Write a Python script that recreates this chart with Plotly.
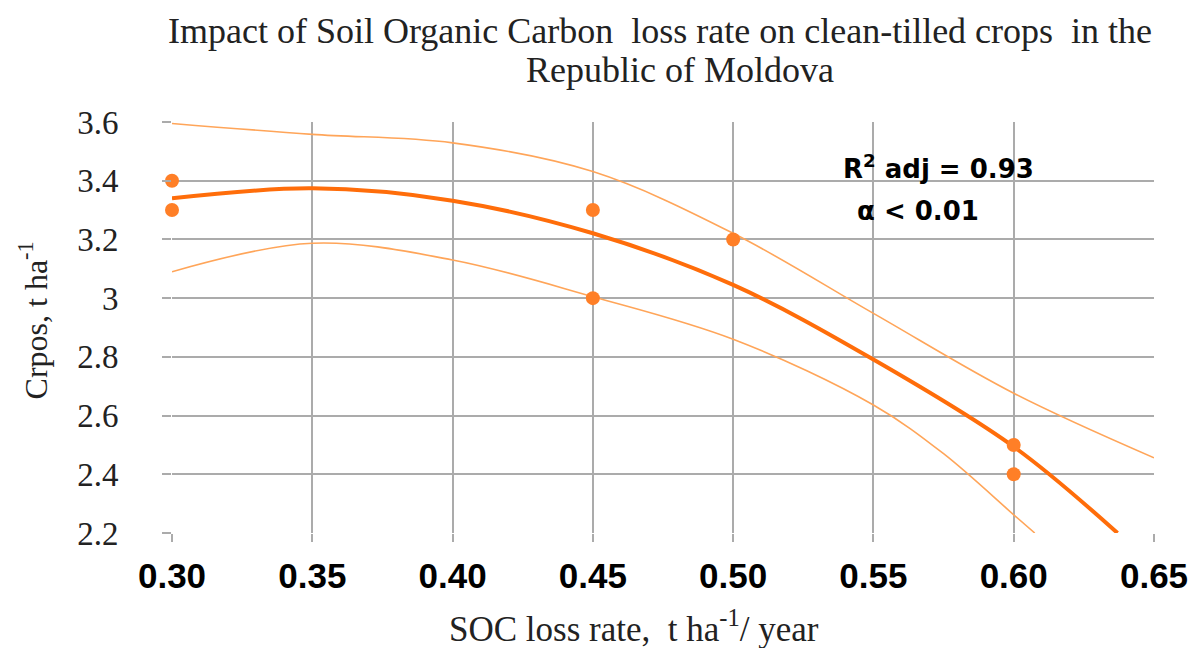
import plotly.graph_objects as go

# Observed data points
obs_x = [0.30, 0.30, 0.45, 0.45, 0.50, 0.60, 0.60]
obs_y = [3.40, 3.30, 3.30, 3.00, 3.20, 2.50, 2.40]

# Fitted curve
fit_x = [0.30, 0.35, 0.40, 0.45, 0.50, 0.55, 0.60, 0.637]
fit_y = [3.340, 3.374, 3.332, 3.221, 3.045, 2.791, 2.494, 2.20]

# Upper confidence band
up_x = [0.30, 0.35, 0.40, 0.45, 0.50, 0.55, 0.60, 0.65]
up_y = [3.595, 3.558, 3.529, 3.431, 3.221, 2.948, 2.676, 2.456]

# Lower confidence band
lo_x = [0.30, 0.35, 0.40, 0.45, 0.50, 0.55, 0.575, 0.60, 0.6075]
lo_y = [3.090, 3.187, 3.130, 3.005, 2.860, 2.636, 2.470, 2.262, 2.20]

x_ticks = [0.30, 0.35, 0.40, 0.45, 0.50, 0.55, 0.60, 0.65]
x_tick_text = ["0.30", "0.35", "0.40", "0.45", "0.50", "0.55", "0.60", "0.65"]
y_ticks = [2.2, 2.4, 2.6, 2.8, 3.0, 3.2, 3.4, 3.6]
y_tick_text = ["2.2", "2.4", "2.6", "2.8", "3", "3.2", "3.4", "3.6"]

serif = "Liberation Serif, Times New Roman, serif"
sans = "Liberation Sans, Arial, sans-serif"
wide_sans = "DejaVu Sans, Verdana, sans-serif"

fig = go.Figure()
fig.add_trace(go.Scatter(x=up_x, y=up_y, mode="lines",
                         line=dict(color="#FFA559", width=1.6, shape="spline", smoothing=1),
                         showlegend=False, hoverinfo="skip"))
fig.add_trace(go.Scatter(x=lo_x, y=lo_y, mode="lines",
                         line=dict(color="#FFA559", width=1.6, shape="spline", smoothing=1),
                         showlegend=False, hoverinfo="skip"))
fig.add_trace(go.Scatter(x=fit_x, y=fit_y, mode="lines",
                         line=dict(color="#FF6D0A", width=4, shape="spline", smoothing=1),
                         showlegend=False))
fig.add_trace(go.Scatter(x=obs_x, y=obs_y, mode="markers",
                         marker=dict(color="#FF7F27", size=14),
                         cliponaxis=False, showlegend=False))

W, H = 1200, 648
ml, mr, mt, mb = 172, 43, 122, 115
pw, ph = W - ml - mr, H - mt - mb

def px(xp):
    return (xp - ml) / pw

def py(yp):
    return 1 - (yp - mt) / ph

fig.add_shape(type="rect", xref="paper", yref="paper",
              x0=px(823), x1=px(1045), y0=py(237), y1=py(139),
              fillcolor="white", line=dict(width=0), layer="between")

fig.update_layout(
    width=W, height=H,
    margin=dict(l=ml, r=mr, t=mt, b=mb),
    paper_bgcolor="white", plot_bgcolor="white",
    showlegend=False,
    xaxis=dict(range=[0.30, 0.65], tickvals=x_ticks, ticktext=x_tick_text,
               showgrid=True, gridcolor="#ABABAB", gridwidth=1.5,
               zeroline=False, showline=False,
               ticks="outside", ticklen=8, tickcolor="#ABABAB", tickwidth=1.5,
               ticklabelstandoff=4,
               tickfont=dict(family=sans, size=35, color="black", weight="bold")),
    yaxis=dict(range=[2.2, 3.6], tickvals=y_ticks, ticktext=y_tick_text,
               showgrid=True, gridcolor="#ABABAB", gridwidth=1.5,
               zeroline=False, showline=False,
               ticks="outside", ticklen=9, tickcolor="#ABABAB", tickwidth=1.5,
               ticklabelstandoff=37,
               tickfont=dict(family=serif, size=33, color="#222222")),
)

annotations = [
    dict(text="Impact of Soil Organic Carbon\u00a0 loss rate on clean-tilled crops\u00a0 in the",
         x=px(661), y=py(31), xref="paper", yref="paper", showarrow=False,
         xanchor="center", yanchor="middle",
         font=dict(family=serif, size=36, color="#222222")),
    dict(text="Republic of Moldova",
         x=px(682), y=py(70), xref="paper", yref="paper", showarrow=False,
         xanchor="center", yanchor="middle",
         font=dict(family=serif, size=36, color="#222222")),
    dict(text="SOC loss rate,\u00a0 t ha<sup>-1</sup>/ year",
         x=px(635), y=py(626), xref="paper", yref="paper", showarrow=False,
         xanchor="center", yanchor="middle",
         font=dict(family=serif, size=35, color="#222222")),
    dict(text="Crpos, t ha<sup>-1</sup>",
         x=px(33), y=py(320), xref="paper", yref="paper", showarrow=False,
         xanchor="center", yanchor="middle", textangle=-90,
         font=dict(family=serif, size=32, color="#222222")),
    dict(text="R<sup>2</sup> adj = 0.93",
         x=px(843), y=py(167), xref="paper", yref="paper", showarrow=False,
         xanchor="left", yanchor="middle",
         font=dict(family=wide_sans, size=26, color="black", weight="bold")),
    dict(text="\u03b1 < 0.01",
         x=px(857), y=py(211), xref="paper", yref="paper", showarrow=False,
         xanchor="left", yanchor="middle",
         font=dict(family=wide_sans, size=26, color="black", weight="bold")),
]
fig.update_layout(annotations=annotations)

fig.write_html("out.html", config={"displayModeBar": False},
               post_script="document.body.style.margin='0';")
